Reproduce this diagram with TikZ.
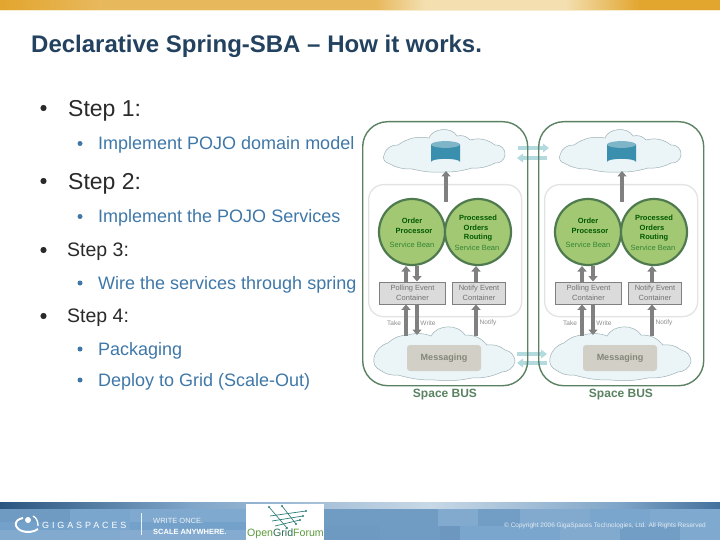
\documentclass[tikz,border=0pt]{standalone}
\usepackage{fontspec}
\setmainfont{Liberation Sans}
\newfontfamily\gigafont[LetterSpace=32]{Liberation Sans}
\usetikzlibrary{arrows.meta,calc,shapes.geometric}
\definecolor{titleblue}{HTML}{23425F}
\definecolor{subblue}{HTML}{3F78A8}
\definecolor{stepdark}{HTML}{2A2A2A}
\definecolor{boxgreen}{HTML}{5A8262}
\definecolor{circfill}{HTML}{A3C873}
\definecolor{circline}{HTML}{4F7A50}
\definecolor{cloudfill}{HTML}{EBF4F7}
\definecolor{cloudline}{HTML}{9DB2B6}
\definecolor{syncblue}{HTML}{B2DADF}
\definecolor{arrowgray}{HTML}{808080}
\definecolor{foot}{HTML}{74A1CA}
\definecolor{golddark}{HTML}{E2A52E}
\definecolor{goldmid}{HTML}{E8B85C}
\definecolor{goldlight}{HTML}{F3DFB0}
\definecolor{cyldark}{HTML}{3B8FAE}
\definecolor{cyltop}{HTML}{7FB5C8}
\definecolor{msgfill}{HTML}{D2D0C6}
\definecolor{msgtext}{HTML}{85857A}
\definecolor{stripdark}{HTML}{2A5580}
\definecolor{stripmid}{HTML}{7FA5C8}
\definecolor{striplight}{HTML}{C8D8E6}
\definecolor{stripend}{HTML}{44709C}
\definecolor{ogfgreen}{HTML}{5A9A3A}
\definecolor{ogfdark}{HTML}{2A6A50}
\definecolor{ogfteal}{HTML}{2F7F78}
\tikzset{
  stepline/.style={anchor=base west,text=stepdark,inner sep=0pt,font=\fontsize{23}{23}\selectfont},
  stepsmall/.style={anchor=base west,text=stepdark,inner sep=0pt,font=\fontsize{19.5}{19.5}\selectfont},
  subline/.style={anchor=base west,text=subblue,inner sep=0pt,font=\fontsize{18}{18}\selectfont},
  bigdot/.style={circle,fill=stepdark,inner sep=0pt,minimum size=6.2pt},
  subdot/.style={circle,fill=subblue,inner sep=0pt,minimum size=5pt},
  outerbox/.style={draw=boxgreen,line width=1.4pt,rounded corners=25pt,anchor=north west,inner sep=0pt,minimum width=165pt,minimum height=264pt},
  innerbox/.style={draw=black!11,line width=1.3pt,rounded corners=15pt,anchor=north west,inner sep=0pt,minimum width=153pt,minimum height=132pt},
  beancircle/.style={circle,draw=circline,fill=circfill,line width=2.2pt,minimum size=66pt,inner sep=0pt},
  contbox/.style={draw=black!50,fill=black!14,line width=.9pt,inner sep=0pt,align=center,text=black!55,font=\fontsize{7.5}{10}\selectfont},
  beanbold/.style={inner sep=0pt,text=green!35!black,font=\bfseries\fontsize{7.5}{7.5}\selectfont},
  beanthin/.style={inner sep=0pt,text=black!60!green!80!white,font=\fontsize{7.5}{7.5}\selectfont},
  smalllabel/.style={inner sep=0pt,text=black!45,font=\fontsize{6.5}{6.5}\selectfont},
  grayarrow/.style={draw=arrowgray,line width=3.6pt,-{Triangle[width=9pt,length=5.5pt]}},
  syncarrow/.style={draw=syncblue,line width=3.6pt,-{Triangle[width=8.5pt,length=6pt]}},
  cloudshape/.style={draw=cloudline,fill=cloudfill,line width=.5pt},
  logotext/.style={inner sep=0pt,anchor=base west,text=white},
}
\newcommand{\springcolumn}[2]{%
  \begin{scope}[shift={(#2,0)}]
    \node[outerbox] (#1outer) at (362,121) {};
    \draw[cloudshape] (384,155) to[bend left=40] (398,145) to[bend left=22] (429,138) to[bend left=65] (457,136)
      to[bend left=30] (470,140) to[bend left=25] (495,145) to[bend left=55] (505,155) to[bend left=45] (495,163)
      to[bend left=15] (472,168) to[bend left=8] (445,172) to[bend left=8] (412,169) to[bend left=15] (388,163) to[bend left=55] cycle;
    \node[inner sep=0pt,minimum width=29pt,minimum height=24pt,anchor=north west] (#1db) at (431,141) {};
    \fill[cyldark] (431,144.5) -- (431,162) arc[x radius=14.5,y radius=3.2,start angle=180,end angle=360] -- (460,144.5) -- cycle;
    \fill[cyltop] (445.5,144.5) ellipse[x radius=14.5,y radius=3.4];
    \node[innerbox] (#1inner) at (368,184) {};
    \node[contbox,minimum width=66pt,minimum height=22pt] (#1poll) at (412.5,293) {Polling Event\\Container};
    \node[contbox,minimum width=53pt,minimum height=22pt] (#1noti) at (479,293) {Notify Event\\Container};
    \coordinate (#1tk) at (406,336);
    \coordinate (#1wr) at (417,336);
    \coordinate (#1nt) at (476,336);
    \coordinate (#1up) at (446,202);
    \draw[cloudshape] (374,358) to[bend left=30] (388,343) to[bend left=20] (408,335) to[bend left=18] (431,336) to[bend left=60] (465,335)
      to[bend left=25] (487,345) to[bend left=22] (505,350) to[bend left=40] (515,362) to[bend left=35] (502,372)
      to[bend left=12] (472,378) to[bend left=8] (435,380) to[bend left=8] (398,375) to[bend left=20] (380,370) to[bend left=40] cycle;
    \node[inner sep=0pt,minimum width=74pt,minimum height=26pt,rounded corners=3pt,fill=msgfill,
      text=msgtext,font=\bfseries\fontsize{9}{9}\selectfont] (#1msg) at (444,358) {Messaging};
    \draw[grayarrow] (#1up) -- (#1up |- 0,171);
    \draw[grayarrow] (#1tk |- #1poll.north) -- (#1tk |- 0,266);
    \draw[grayarrow] (#1wr |- 0,266) -- (#1wr |- #1poll.north);
    \draw[grayarrow] (#1nt |- #1noti.north) -- (#1nt |- 0,266);
    \draw[grayarrow] (#1tk) -- (#1tk |- #1poll.south);
    \draw[grayarrow] (#1wr |- #1poll.south) -- (#1wr |- 0,335);
    \draw[grayarrow] (#1nt) -- (#1nt |- #1noti.south);
    \node[beancircle] (#1oc) at (412,232) {};
    \node[beancircle] (#1pc) at (478,232) {};
    \node[beanbold] (#1oa) at (412,221) {Order};
    \node[beanbold] (#1ob) at (414,231) {Processor};
    \node[beanthin] (#1oc2) at (412,245) {Service Bean};
    \node[beanbold] (#1pa) at (478,218) {Processed};
    \node[beanbold] (#1pb) at (476,228) {Orders};
    \node[beanbold] (#1pd) at (478,238) {Routing};
    \node[beanthin] (#1pe) at (477,248) {Service Bean};
    \node[smalllabel] (#1ltake) at (394,323) {Take};
    \node[smalllabel] (#1lwrite) at (428,323) {Write};
    \node[smalllabel] (#1lnotify) at (488,323) {Notify};
    \node[inner sep=0pt,text=boxgreen,font=\bfseries\fontsize{12}{12}\selectfont] (#1bus) at (445,395) {Space BUS};
  \end{scope}}
\begin{document}
\begin{tikzpicture}[x=1pt,y=-1pt]
\useasboundingbox (0,0) rectangle (720,540);
\fill[white] (0,0) rectangle (720,540);
% header
\shade[left color=golddark,right color=goldmid] (0,0) rectangle (100,10);
\fill[goldmid] (100,0) rectangle (375,10);
\shade[left color=goldmid,right color=goldlight] (375,0) rectangle (425,10);
\fill[goldlight] (425,0) rectangle (565,10);
\shade[left color=goldlight,right color=golddark] (565,0) rectangle (640,10);
\fill[golddark] (640,0) rectangle (720,10);
\fill[goldlight!60!white] (0,10) rectangle (720,11);
% title
\node[anchor=base west,inner sep=0pt,text=titleblue,font=\bfseries\fontsize{24}{24}\selectfont] (title) at (31,52.3) {Declarative Spring-SBA – How it works.};
% bullets
\node[bigdot] (d1) at (43.5,108) {}; \node[stepline] (s1) at (68,116.7) {Step 1:};
\node[subdot] (d1a) at (80,143.5) {}; \node[subline] (s1a) at (98,150) {Implement POJO domain model};
\node[bigdot] (d2) at (43.5,181) {}; \node[stepline] (s2) at (68,190) {Step 2:};
\node[subdot] (d2a) at (80,216.5) {}; \node[subline] (s2a) at (98,222.7) {Implement the POJO Services};
\node[bigdot] (d3) at (43.5,250) {}; \node[stepsmall] (s3) at (67,256.7) {Step 3:};
\node[subdot] (d3a) at (80,283) {}; \node[subline] (s3a) at (98,289) {Wire the services through spring};
\node[bigdot] (d4) at (43.5,316) {}; \node[stepsmall] (s4) at (67,322) {Step 4:};
\node[subdot] (d4a) at (80,349) {}; \node[subline] (s4a) at (98,355) {Packaging};
\node[subdot] (d4b) at (80,380) {}; \node[subline] (s4b) at (98,386.7) {Deploy to Grid (Scale-Out)};
% synchronisation arrows (behind the frames)
\coordinate (ta) at (518,148); \coordinate (tb) at (549,148);
\coordinate (tc) at (547,158); \coordinate (td) at (517,158);
\coordinate (ba) at (517,354); \coordinate (bb) at (547,354);
\coordinate (bc) at (547,363); \coordinate (bd) at (517,363);
\draw[syncarrow] (ta) -- (tb);
\draw[syncarrow] (tc) -- (td);
\draw[syncarrow] (ba) -- (bb);
\draw[syncarrow] (bc) -- (bd);
\springcolumn{l}{0}
\springcolumn{r}{176}
% footer
\fill[foot] (0,508) rectangle (720,540);
\foreach \xa/\ya/\xb/\yb/\tint in {
 0/508/70/522/96!black,70/508/130/530/96!white,130/508/250/522/92!white,0/530/120/540/90!white,120/530/250/540/88!white,
 324/508/360/526/97!black,360/508/438/526/97!black,438/508/478/526/90!white,478/508/520/526/98!black,520/508/590/526/90!white,590/508/650/526/96!white,650/508/720/526/92!white,
 324/526/380/540/95!black,380/526/440/540/97!black,440/526/460/540/94!black,460/526/560/540/96!white,560/526/620/540/90!white,620/526/680/540/98!black,680/526/720/540/92!white}{
  \fill[foot!\tint] (\xa,\ya) rectangle (\xb,\yb);
}
\shade[left color=stripdark,right color=stripmid] (0,502) rectangle (190,508);
\shade[left color=stripmid,right color=striplight] (190,502) rectangle (430,508);
\shade[left color=striplight,right color=stripmid] (430,502) rectangle (620,508);
\shade[left color=stripmid,right color=stripend] (620,502) rectangle (720,508);
% gigaspaces logo
\draw[white,line width=1.9pt] (23,518) .. controls (13,520) and (14,528) .. (22,531) .. controls (27,533) and (34,532) .. (38,529);
\draw[white,line width=1.3pt] (33,516) .. controls (37,518) and (38,522) .. (38,526);
\fill[white] (28,520) circle[radius=3];
\node[logotext,font=\gigafont\fontsize{9}{9}\selectfont] (giga) at (42,528.5) {GIGASPACES};
\coordinate (va) at (141,513); \coordinate (vb) at (141,535);
\draw[white!85!foot,line width=1pt] (va) -- (vb);
\node[logotext,font=\fontsize{7.5}{7.5}\selectfont,text=white!85!foot] (wo) at (153,523) {WRITE ONCE.};
\node[logotext,font=\bfseries\fontsize{7.5}{7.5}\selectfont] (sa) at (153,534) {SCALE ANYWHERE.};
% open grid forum logo
\fill[white] (246,504) rectangle (324,540);
\begin{scope}[draw=ogfteal,line width=.7pt]
  \draw (269,507) -- (287,528);
  \draw (282,506) -- (296,524);
  \draw (270,516) -- (306,511);
  \draw (272,521) -- (303,516);
  \draw (275,526) -- (300,520);
\end{scope}
\foreach \p in {(269,507),(282,506),(306,511),(303,516),(300,520),(287,528),(296,524)}{\fill[ogfteal] \p circle[radius=1.1];}
\node[anchor=base west,inner sep=0pt,font=\fontsize{10.6}{10.6}\selectfont,text=ogfgreen] (ogf) at (247,536) {Open\textcolor{ogfdark}{Grid}Forum};
% copyright
\node[anchor=base west,inner sep=0pt,text=white!80!foot,font=\fontsize{6.5}{6.5}\selectfont] (copy) at (504,527.5) {© Copyright 2006 GigaSpaces Technologies, Ltd. All Rights Reserved};
\end{tikzpicture}
\end{document}
